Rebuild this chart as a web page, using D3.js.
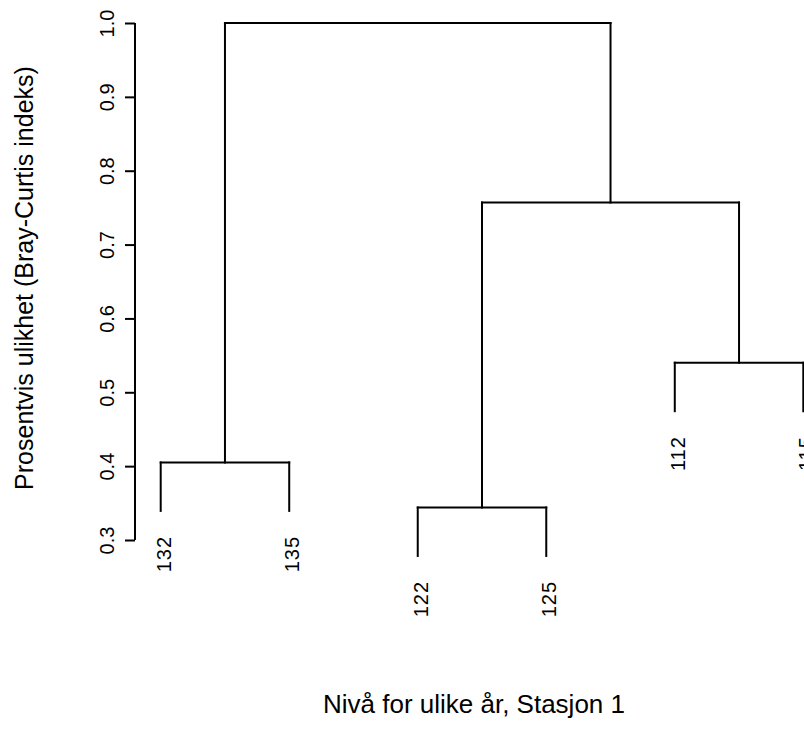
<!DOCTYPE html>
<html>
<head>
<meta charset="utf-8">
<script src="https://cdn.jsdelivr.net/npm/d3@7"></script>
<style>
  body { margin: 0; background: #fff; }
  svg text { font-family: "Liberation Sans", Arial, Helvetica, sans-serif; fill: #000; }
</style>
</head>
<body>
<div id="chart"></div>
<script>
// leaf labels in plotting order
var leafLabels = ["132", "135", "122", "125", "112", "115"];
// leaf position (1..n) of each original observation
var leafOrder = { "132": 1, "135": 2, "122": 3, "125": 4, "112": 5, "115": 6 };

// merge steps, R hclust style: string = leaf, number = earlier merge
var mergeLeft  = ["122", "132", "112", 1, 2];
var mergeRight = ["125", "135", "115", 3, 4];
var mergeHeight = [0.344, 0.405, 0.540, 0.757, 1.0];

var yTicks = [0.3, 0.4, 0.5, 0.6, 0.7, 0.8, 0.9, 1.0];
var yTitle = "Prosentvis ulikhet (Bray-Curtis indeks)";
var xTitle = "Nivå for ulike år, Stasjon 1";

var width = 804, height = 744;
var lineW = 2;

var svg = d3.select('#chart').append('svg')
  .attr('width', width)
  .attr('height', height);

// plot region
var x = d3.scaleLinear().domain([0.8, 6.2]).range([135, 829]);
var y = d3.scaleLinear().domain([0.3, 1.0]).range([540, 23]);

var hang = 0.1 * (d3.max(mergeHeight) - d3.min(mergeHeight));

// work out x and bottom of each node
function nodeInfo(ref){
  if (typeof ref === 'string') {
    return { x: x(leafOrder[ref]), y: null, leaf: ref };
  }
  return merged[ref - 1];
}

var merged = [];
var segs = [];
var leafEnds = [];

mergeLeft.forEach(function(l, i){
  var a = nodeInfo(l), b = nodeInfo(mergeRight[i]);
  var h = y(mergeHeight[i]);
  [a, b].forEach(function(c){
    var bottom;
    if (c.leaf) {
      bottom = y(mergeHeight[i] - hang);
      leafEnds.push({ label: c.leaf, x: c.x, y: bottom });
    } else {
      bottom = c.y;
    }
    segs.push([c.x, bottom, c.x, h]);
  });
  segs.push([a.x, h, b.x, h]);
  merged.push({ x: (a.x + b.x) / 2, y: h });
});

var g = svg.append('g');

g.selectAll('.seg')
  .data(segs)
  .enter()
  .append('line')
  .attr('class', 'seg')
  .attr('x1', function(d){ return d[0]; })
  .attr('y1', function(d){ return d[1]; })
  .attr('x2', function(d){ return d[2]; })
  .attr('y2', function(d){ return d[3]; })
  .style('stroke', '#000')
  .style('stroke-width', lineW)
  .style('stroke-linecap', 'square');

// leaf labels, rotated
g.selectAll('.leaflab')
  .data(leafEnds)
  .enter()
  .append('text')
  .attr('class', 'leaflab')
  .attr('transform', function(d){
    return 'translate(' + (d.x + 10) + ',' + (d.y + 25) + ') rotate(-90)';
  })
  .attr('text-anchor', 'end')
  .style('font-size', '20px')
  .style('letter-spacing', '1px')
  .text(function(d){ return d.label; });

// y axis
var yAxis = svg.append('g')
  .attr('transform', 'translate(135,0)')
  .call(d3.axisLeft(y).tickValues(yTicks).tickSize(10).tickFormat(d3.format('.1f')));

yAxis.select('.domain')
  .attr('d', 'M0,' + y(0.3) + 'V' + y(1.0))
  .style('stroke', '#000')
  .style('stroke-width', lineW);
yAxis.selectAll('.tick line')
  .style('stroke', '#000')
  .style('stroke-width', lineW);
yAxis.selectAll('.tick text')
  .attr('x', null)
  .attr('dy', null)
  .attr('transform', 'translate(-21,0) rotate(-90)')
  .attr('text-anchor', 'middle')
  .style('font-size', '20px')
  .style('font-family', '"Liberation Sans", Arial, sans-serif');

// titles
svg.append('text')
  .attr('transform', 'translate(33,278) rotate(-90)')
  .attr('text-anchor', 'middle')
  .style('font-size', '25px')
  .text(yTitle);

svg.append('text')
  .attr('x', 474)
  .attr('y', 713)
  .attr('text-anchor', 'middle')
  .style('font-size', '26px')
  .text(xTitle);
</script>
</body>
</html>
